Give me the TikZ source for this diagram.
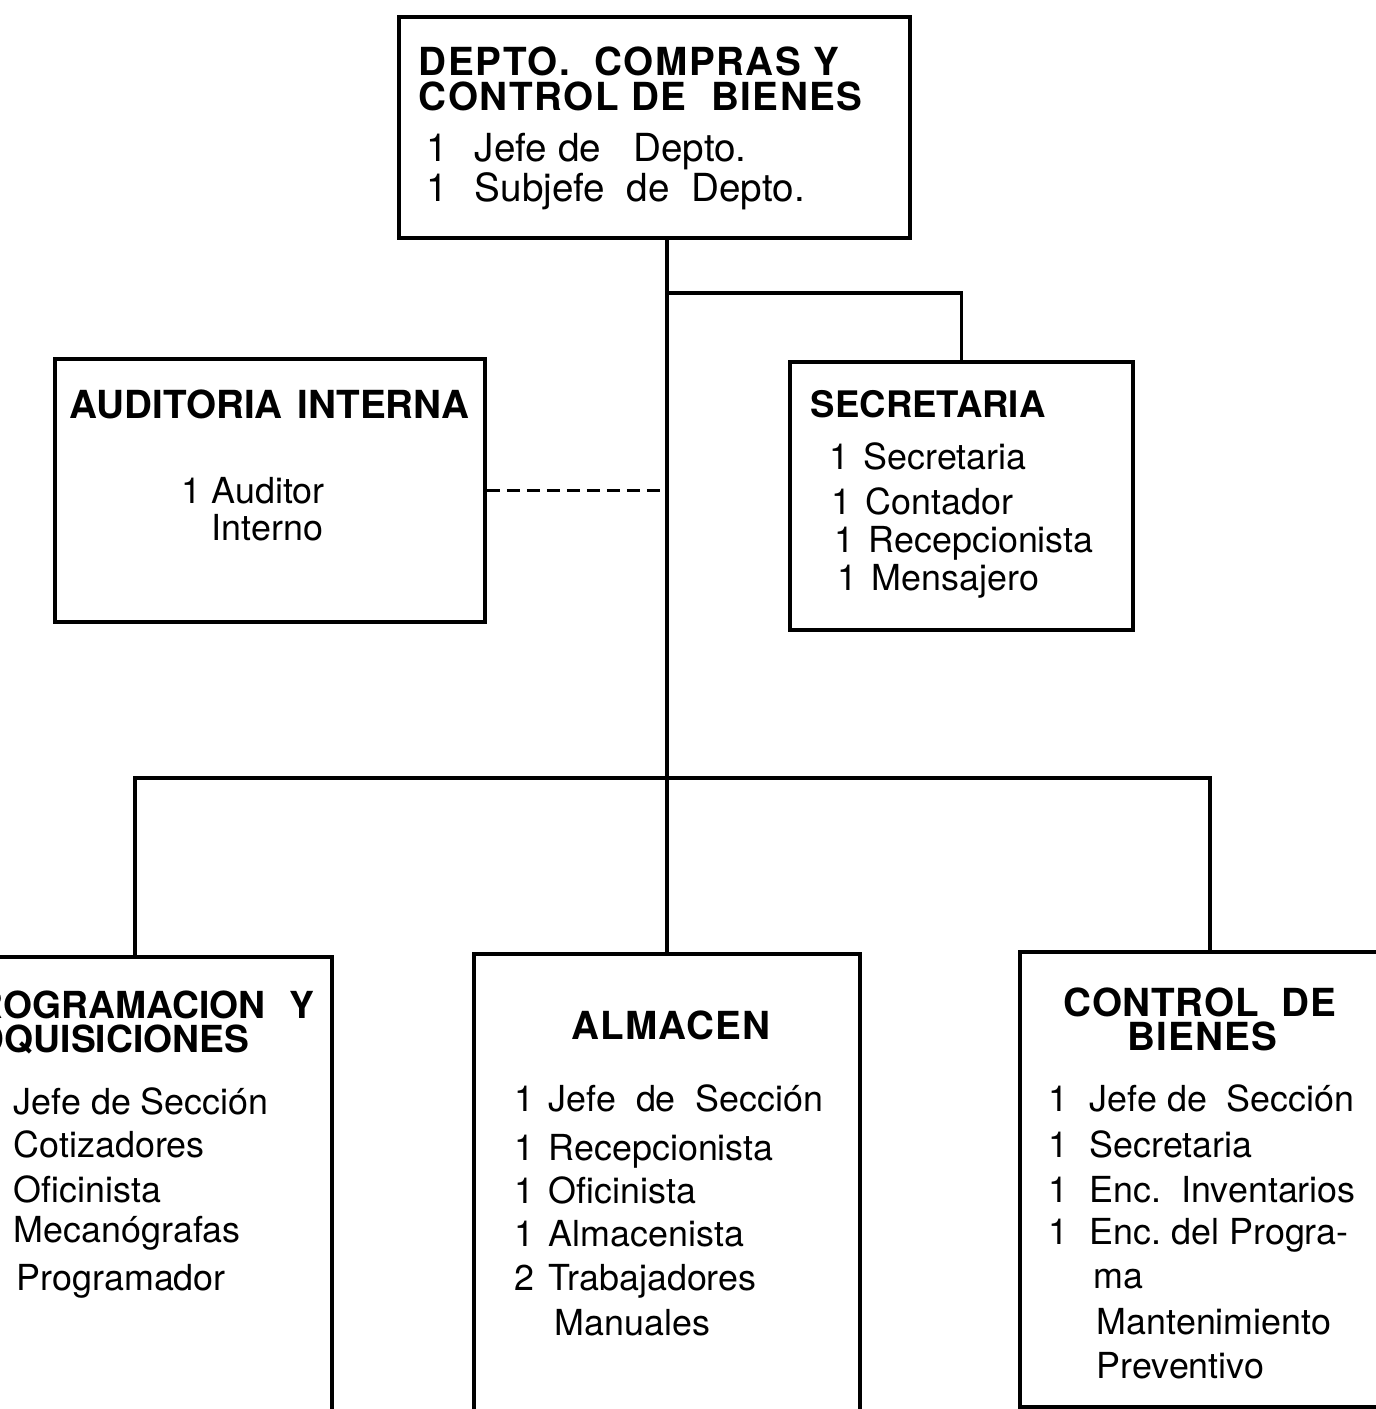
\documentclass[tikz,border=0pt]{standalone}
\usepackage{fontspec}
\setmainfont{TeX Gyre Heros}

% Number column in the staff lists.
\newcommand{\cnt}[2][3.4mm]{\makebox[#1][l]{#2}}

\begin{document}
\begin{tikzpicture}[%
        x = 0.1mm,
        y = -0.1mm,
        line width = 1.1pt,
        box/.style = {draw, rectangle, inner sep = 0pt, anchor = north west},
        title/.style = {font = \fontsize{11}{13}\selectfont\bfseries, inner sep = 0pt},
        staff/.style = {font = \fontsize{10.2}{12}\selectfont, inner sep = 0pt, anchor = base west}
    ]

        % Page size, cut as in the scan.
        \useasboundingbox (0, 0) rectangle (1376, 1409);
        \clip (0, 0) rectangle (1376, 1409);
        \fill[white] (0, 0) rectangle (1376, 1409);

        % The boxes.
        \node[box, minimum width = 51.1mm, minimum height = 22.1mm] (depto) at (397, 15) {};
        \node[box, minimum width = 43.0mm, minimum height = 26.3mm] (auditoria) at (53, 357) {};
        \node[box, minimum width = 34.3mm, minimum height = 26.8mm] (secretaria) at (788, 360) {};
        \node[box, minimum width = 39.4mm, minimum height = 50.0mm] (programacion) at (-64, 955) {};
        \node[box, minimum width = 38.6mm, minimum height = 50.0mm] (almacen) at (472, 952) {};
        \node[box, minimum width = 38.0mm, minimum height = 45.5mm] (bienes) at (1018, 950) {};

        % Branch points on the main line.
        \coordinate (sec-branch) at (665, 293);
        \coordinate (bar) at (665, 778);

        % Connect the boxes.
        \draw (depto.south -| almacen.north) -- (almacen.north);
        \draw (sec-branch) -| (secretaria.north);
        \draw (programacion.north) |- (bar) -| (bienes.north);
        \draw[dash pattern = on 1.3mm off 0.7mm] (auditoria.east) -- (auditoria.east -| almacen.north);

        % Department head.
        \node[title, anchor = base west] (depto-title1) at (417, 75) {\addfontfeature{LetterSpace=4}DEPTO.~~COMPRAS Y};
        \node[title, anchor = base west] (depto-title2) at (417, 110) {\addfontfeature{LetterSpace=4}CONTROL DE~~BIENES};
        \node[staff, font = \fontsize{11}{13}\selectfont] (depto-1) at (425, 161) {\cnt[4.8mm]{1}Jefe de~~~Depto.};
        \node[staff, font = \fontsize{11}{13}\selectfont] (depto-2) at (425, 201) {\cnt[4.8mm]{1}Subjefe~~de~~Depto.};

        % Internal audit.
        \node[title, anchor = base west] (aud-title) at (68, 418) {AUDITORIA\hspace{1.5mm}INTERNA};
        \node[staff] (aud-1) at (180, 503) {\cnt[3mm]{1}Auditor};
        \node[staff] (aud-2) at (210, 540) {Interno};

        % Secretary.
        \node[title, anchor = base west, font = \fontsize{10.4}{12}\selectfont\bfseries] (sec-title) at (809, 417) {SECRETARIA};
        \node[staff] (sec-1) at (828, 469) {\cnt{1}Secretaria};
        \node[staff] (sec-2) at (830, 514) {\cnt{1}Contador};
        \node[staff] (sec-3) at (833, 552) {\cnt{1}Recepcionista};
        \node[staff] (sec-4) at (836, 590) {\cnt{1}Mensajero};

        % Programming and purchasing (cut at the left edge).
        \node[title, anchor = base east, font = \fontsize{10.6}{12}\selectfont\bfseries] (prog-title1) at (316, 1018) {PROGRAMACION\hspace{2.4mm}Y};
        \node[title, anchor = base east, font = \fontsize{10.6}{12}\selectfont\bfseries] (prog-title2) at (251, 1052) {ADQUISICIONES};
        \node[staff] (prog-1) at (12, 1114) {Jefe de Sección};
        \node[staff] (prog-2) at (12, 1157) {Cotizadores};
        \node[staff] (prog-3) at (12, 1202) {Oficinista};
        \node[staff] (prog-4) at (12, 1242) {Mecanógrafas};
        \node[staff] (prog-5) at (15, 1290) {Programador};

        % Warehouse.
        \node[title, anchor = base] (alm-title) at (671, 1039) {\addfontfeature{LetterSpace=3}ALMACEN};
        \node[staff] (alm-1) at (513, 1111) {\cnt{1}Jefe~~de~~Sección};
        \node[staff] (alm-2) at (513, 1160) {\cnt{1}Recepcionista};
        \node[staff] (alm-3) at (513, 1203) {\cnt{1}Oficinista};
        \node[staff] (alm-4) at (513, 1246) {\cnt{1}Almacenista};
        \node[staff] (alm-5) at (513, 1290) {\cnt{2}Trabajadores};
        \node[staff] (alm-6) at (553, 1335) {Manuales};

        % Asset control.
        \node[title, anchor = base] (bienes-title1) at (1200, 1016) {\addfontfeature{LetterSpace=2}CONTROL~~DE};
        \node[title, anchor = base] (bienes-title2) at (1202, 1050) {\addfontfeature{LetterSpace=3}BIENES};
        \node[staff] (bienes-1) at (1047, 1111) {\cnt[4.1mm]{1}Jefe de~~Sección};
        \node[staff] (bienes-2) at (1047, 1157) {\cnt[4.1mm]{1}Secretaria};
        \node[staff] (bienes-3) at (1047, 1202) {\cnt[4.1mm]{1}Enc.~~Inventarios};
        \node[staff] (bienes-4) at (1047, 1244) {\cnt[4.1mm]{1}Enc.~del~Progra-};
        \node[staff] (bienes-5) at (1092, 1288) {ma};
        \node[staff] (bienes-6) at (1095, 1334) {Mantenimiento};
        \node[staff] (bienes-7) at (1095, 1378) {Preventivo};
    \end{tikzpicture}
\end{document}
